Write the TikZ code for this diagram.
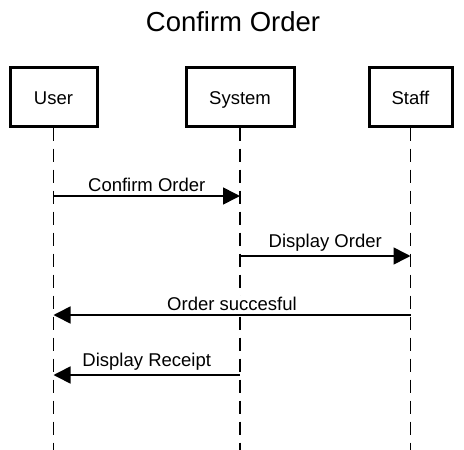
\documentclass[tikz,border=0pt]{standalone}
\usepackage{fontspec}
\setmainfont{Liberation Sans}
\usetikzlibrary{arrows.meta}
\begin{document}
\begin{tikzpicture}[x=1pt,y=-1pt,
  actor/.style={draw,line width=3pt,minimum height=59pt,inner sep=0pt,text height=15pt,text depth=0pt,font=\fontsize{18.5}{21}\selectfont},
  lifeline/.style={line width=1.8pt,dash pattern=on 13pt off 8pt},
  msg/.style={line width=1.6pt,-{Triangle[length=17pt,width=17pt]}},
  lbl/.style={font=\fontsize{18.5}{21}\selectfont,above=3pt,inner sep=1pt,fill=white}]
\useasboundingbox (0,0) rectangle (464,450);
\node[font=\fontsize{27.5}{30}\selectfont] (title) at (233,22) {Confirm Order};
\node[actor,minimum width=87pt] (user) at (53.5,96.5) {User};
\node[actor,minimum width=108pt] (system) at (240,96.5) {System};
\node[actor,minimum width=83pt] (staff) at (410.5,96.5) {Staff};
\coordinate (ue) at (53.5,450);
\coordinate (se) at (240,450);
\coordinate (te) at (410.5,450);
\draw[lifeline] (user.south) -- (ue);
\draw[lifeline] (system.south) -- (se);
\draw[lifeline] (staff.south) -- (te);
\coordinate (u1) at (53.5,196);  \coordinate (s1) at (240,196);
\coordinate (s2) at (240,256);   \coordinate (t2) at (410.5,256);
\coordinate (t3) at (410.5,315); \coordinate (u3) at (53.5,315);
\coordinate (s4) at (240,375);   \coordinate (u4) at (53.5,375);
\draw[msg] (u1) -- node[lbl] (l1) {Confirm Order} (s1);
\draw[msg] (s2) -- node[lbl] (l2) {Display Order} (t2);
\draw[msg] (t3) -- node[lbl] (l3) {Order succesful} (u3);
\draw[msg] (s4) -- node[lbl] (l4) {Display Receipt} (u4);
\end{tikzpicture}
\end{document}
